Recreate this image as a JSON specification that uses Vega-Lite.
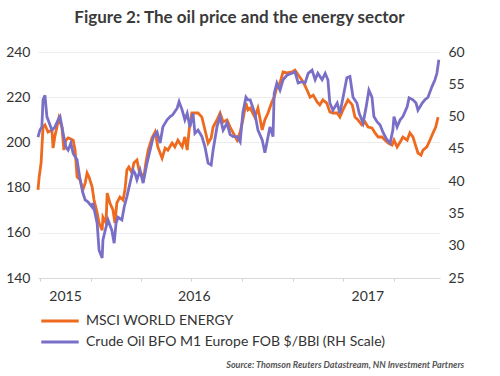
{
  "$schema": "https://vega.github.io/schema/vega-lite/v6.json",
  "width": 402,
  "height": 226,
  "padding": {"left": 5, "right": 5, "top": 8, "bottom": 3},
  "background": "#ffffff",
  "config": {"view": {"stroke": null}, "font": "Lato"},
  "title": {
    "text": "Source: Thomson Reuters Datastream, NN Investment Partners",
    "orient": "bottom",
    "anchor": "end",
    "frame": "bounds",
    "font": "Lato",
    "fontSize": 9,
    "fontStyle": "italic",
    "fontWeight": "bold",
    "color": "#555555",
    "offset": 12
  },
  "datasets": {
    "msci": [
      {"w": 0.0, "v": 179.0}, {"w": 0.3, "v": 184.7}, {"w": 0.8, "v": 190.9}, {"w": 1.3, "v": 206.8}, {"w": 1.8, "v": 207.7},
      {"w": 2.6, "v": 204.6}, {"w": 3.6, "v": 205.5}, {"w": 3.9, "v": 197.5}, {"w": 4.4, "v": 203.0}, {"w": 4.9, "v": 206.8},
      {"w": 5.4, "v": 210.8}, {"w": 6.2, "v": 206.8}, {"w": 6.7, "v": 196.6}, {"w": 7.2, "v": 201.0}, {"w": 7.8, "v": 202.0},
      {"w": 8.5, "v": 201.5}, {"w": 9.1, "v": 201.0}, {"w": 9.6, "v": 196.6}, {"w": 10.1, "v": 184.7}, {"w": 10.9, "v": 183.4},
      {"w": 11.6, "v": 179.0}, {"w": 12.2, "v": 182.0}, {"w": 12.7, "v": 186.5}, {"w": 13.2, "v": 184.7}, {"w": 14.0, "v": 180.3},
      {"w": 14.5, "v": 174.5}, {"w": 15.3, "v": 168.8}, {"w": 15.8, "v": 164.3}, {"w": 16.6, "v": 161.2}, {"w": 16.8, "v": 166.9},
      {"w": 17.6, "v": 164.3}, {"w": 17.9, "v": 177.6}, {"w": 18.6, "v": 173.2}, {"w": 19.4, "v": 170.1}, {"w": 19.9, "v": 164.3},
      {"w": 20.4, "v": 173.2}, {"w": 21.2, "v": 175.8}, {"w": 22.0, "v": 174.5}, {"w": 22.5, "v": 179.0}, {"w": 23.0, "v": 187.8},
      {"w": 23.5, "v": 189.1}, {"w": 24.3, "v": 186.5}, {"w": 24.8, "v": 190.9}, {"w": 25.6, "v": 192.2}, {"w": 26.2, "v": 187.2},
      {"w": 26.9, "v": 185.8}, {"w": 27.2, "v": 182.5}, {"w": 27.9, "v": 190.9}, {"w": 28.5, "v": 196.6}, {"w": 29.5, "v": 202.0},
      {"w": 30.3, "v": 204.6}, {"w": 31.0, "v": 198.0}, {"w": 32.1, "v": 193.0}, {"w": 32.9, "v": 197.5}, {"w": 33.6, "v": 196.6},
      {"w": 34.7, "v": 199.7}, {"w": 35.4, "v": 198.0}, {"w": 36.2, "v": 201.0}, {"w": 37.3, "v": 198.0}, {"w": 38.0, "v": 202.4},
      {"w": 38.6, "v": 196.6}, {"w": 39.1, "v": 205.5}, {"w": 39.8, "v": 213.0}, {"w": 40.6, "v": 213.0}, {"w": 41.4, "v": 213.0},
      {"w": 42.4, "v": 211.2}, {"w": 43.2, "v": 205.5}, {"w": 44.0, "v": 199.7}, {"w": 44.8, "v": 202.0}, {"w": 45.3, "v": 206.8},
      {"w": 46.3, "v": 209.9}, {"w": 47.1, "v": 213.0}, {"w": 47.9, "v": 209.0}, {"w": 48.9, "v": 209.9}, {"w": 49.7, "v": 206.8},
      {"w": 50.5, "v": 204.2}, {"w": 51.5, "v": 201.0}, {"w": 52.3, "v": 204.6}, {"w": 53.0, "v": 209.9}, {"w": 53.8, "v": 217.4},
      {"w": 54.3, "v": 214.4}, {"w": 54.9, "v": 215.2}, {"w": 56.1, "v": 211.2}, {"w": 56.9, "v": 215.2}, {"w": 58.0, "v": 205.5},
      {"w": 58.7, "v": 210.0}, {"w": 59.5, "v": 213.0}, {"w": 60.5, "v": 217.9}, {"w": 61.1, "v": 220.0}, {"w": 61.8, "v": 224.5},
      {"w": 62.6, "v": 226.3}, {"w": 63.4, "v": 231.2}, {"w": 64.4, "v": 230.8}, {"w": 65.7, "v": 231.2}, {"w": 66.5, "v": 232.0},
      {"w": 67.3, "v": 229.9}, {"w": 68.6, "v": 226.7}, {"w": 69.6, "v": 223.2}, {"w": 70.4, "v": 220.0}, {"w": 71.2, "v": 220.9},
      {"w": 72.2, "v": 217.9}, {"w": 72.9, "v": 216.6}, {"w": 73.7, "v": 218.8}, {"w": 74.7, "v": 217.4}, {"w": 75.5, "v": 213.5},
      {"w": 76.3, "v": 213.0}, {"w": 77.4, "v": 213.0}, {"w": 78.1, "v": 211.2}, {"w": 78.9, "v": 214.4}, {"w": 80.2, "v": 218.8},
      {"w": 81.3, "v": 216.6}, {"w": 82.0, "v": 211.2}, {"w": 82.8, "v": 209.9}, {"w": 83.8, "v": 207.7}, {"w": 84.6, "v": 209.0},
      {"w": 85.4, "v": 206.8}, {"w": 86.4, "v": 206.4}, {"w": 87.2, "v": 204.2}, {"w": 88.0, "v": 202.4}, {"w": 89.0, "v": 202.4},
      {"w": 89.8, "v": 201.0}, {"w": 90.6, "v": 199.7}, {"w": 91.6, "v": 198.8}, {"w": 92.1, "v": 201.0}, {"w": 92.9, "v": 198.0},
      {"w": 93.7, "v": 200.2}, {"w": 94.4, "v": 202.4}, {"w": 95.5, "v": 201.0}, {"w": 96.2, "v": 204.2}, {"w": 97.0, "v": 202.4},
      {"w": 97.8, "v": 198.0}, {"w": 98.3, "v": 195.3}, {"w": 99.1, "v": 194.4}, {"w": 99.6, "v": 196.6}, {"w": 100.6, "v": 198.0},
      {"w": 101.4, "v": 201.0}, {"w": 102.2, "v": 204.2}, {"w": 102.9, "v": 206.8}, {"w": 103.5, "v": 211.2}
    ],
    "oil": [
      {"w": 0.0, "v": 46.8}, {"w": 0.5, "v": 47.9}, {"w": 1.0, "v": 48.4}, {"w": 1.3, "v": 52.6}, {"w": 1.8, "v": 53.3},
      {"w": 2.3, "v": 50.0}, {"w": 2.8, "v": 49.2}, {"w": 3.6, "v": 47.9}, {"w": 4.4, "v": 48.4}, {"w": 5.2, "v": 49.5},
      {"w": 5.7, "v": 50.0}, {"w": 6.5, "v": 47.4}, {"w": 7.2, "v": 45.3}, {"w": 7.8, "v": 44.8}, {"w": 8.5, "v": 45.9},
      {"w": 9.1, "v": 44.3}, {"w": 10.1, "v": 43.3}, {"w": 10.9, "v": 40.2}, {"w": 11.6, "v": 38.2}, {"w": 12.2, "v": 37.1},
      {"w": 12.9, "v": 36.8}, {"w": 14.0, "v": 36.0}, {"w": 14.2, "v": 36.6}, {"w": 15.3, "v": 33.5}, {"w": 15.8, "v": 29.3},
      {"w": 16.6, "v": 28.1}, {"w": 16.8, "v": 30.9}, {"w": 17.6, "v": 32.9}, {"w": 18.1, "v": 34.0}, {"w": 19.1, "v": 32.4},
      {"w": 19.7, "v": 30.4}, {"w": 20.2, "v": 33.5}, {"w": 20.7, "v": 34.4}, {"w": 21.7, "v": 34.0}, {"w": 22.3, "v": 36.0},
      {"w": 23.0, "v": 37.6}, {"w": 23.8, "v": 39.7}, {"w": 24.6, "v": 41.7}, {"w": 25.1, "v": 41.2}, {"w": 25.6, "v": 40.2},
      {"w": 26.4, "v": 41.7}, {"w": 27.2, "v": 39.7}, {"w": 28.2, "v": 42.8}, {"w": 29.0, "v": 44.8}, {"w": 29.8, "v": 46.8},
      {"w": 30.8, "v": 47.6}, {"w": 31.6, "v": 45.9}, {"w": 32.3, "v": 48.4}, {"w": 33.4, "v": 49.5}, {"w": 34.2, "v": 50.0},
      {"w": 34.9, "v": 50.3}, {"w": 36.0, "v": 51.3}, {"w": 36.5, "v": 52.3}, {"w": 37.3, "v": 51.0}, {"w": 38.0, "v": 49.5},
      {"w": 38.6, "v": 50.5}, {"w": 39.3, "v": 48.4}, {"w": 40.1, "v": 50.5}, {"w": 40.6, "v": 47.4}, {"w": 41.4, "v": 47.9},
      {"w": 42.4, "v": 46.9}, {"w": 43.2, "v": 45.3}, {"w": 44.0, "v": 42.8}, {"w": 44.8, "v": 42.5}, {"w": 45.3, "v": 44.8},
      {"w": 46.3, "v": 48.4}, {"w": 47.1, "v": 50.0}, {"w": 47.9, "v": 47.9}, {"w": 48.9, "v": 49.0}, {"w": 49.7, "v": 47.2},
      {"w": 50.5, "v": 46.9}, {"w": 51.5, "v": 46.9}, {"w": 52.3, "v": 46.1}, {"w": 53.0, "v": 50.6}, {"w": 53.8, "v": 53.0},
      {"w": 54.3, "v": 52.6}, {"w": 54.9, "v": 52.6}, {"w": 56.1, "v": 50.5}, {"w": 56.9, "v": 47.9}, {"w": 58.0, "v": 46.4},
      {"w": 58.7, "v": 44.4}, {"w": 59.2, "v": 45.9}, {"w": 60.0, "v": 48.4}, {"w": 60.8, "v": 46.9}, {"w": 61.1, "v": 53.6},
      {"w": 61.8, "v": 55.2}, {"w": 62.6, "v": 54.1}, {"w": 63.4, "v": 55.7}, {"w": 64.4, "v": 56.4}, {"w": 65.7, "v": 56.7},
      {"w": 66.5, "v": 56.9}, {"w": 67.3, "v": 55.2}, {"w": 68.3, "v": 55.4}, {"w": 69.1, "v": 55.2}, {"w": 69.9, "v": 56.7},
      {"w": 70.9, "v": 57.2}, {"w": 71.7, "v": 55.7}, {"w": 72.4, "v": 56.7}, {"w": 73.5, "v": 55.7}, {"w": 74.3, "v": 56.7},
      {"w": 75.0, "v": 55.7}, {"w": 75.5, "v": 52.1}, {"w": 76.3, "v": 51.0}, {"w": 77.4, "v": 52.1}, {"w": 78.1, "v": 50.5},
      {"w": 78.9, "v": 52.9}, {"w": 79.9, "v": 56.0}, {"w": 80.7, "v": 56.2}, {"w": 81.5, "v": 53.0}, {"w": 82.5, "v": 52.1},
      {"w": 83.1, "v": 50.5}, {"w": 84.1, "v": 49.0}, {"w": 84.9, "v": 51.5}, {"w": 85.6, "v": 54.1}, {"w": 86.4, "v": 53.0},
      {"w": 86.9, "v": 50.0}, {"w": 87.7, "v": 49.2}, {"w": 88.5, "v": 48.7}, {"w": 89.3, "v": 47.5}, {"w": 90.3, "v": 46.4},
      {"w": 91.1, "v": 45.9}, {"w": 91.8, "v": 47.9}, {"w": 92.1, "v": 50.0}, {"w": 92.9, "v": 48.4}, {"w": 93.7, "v": 49.5},
      {"w": 94.4, "v": 50.0}, {"w": 95.5, "v": 51.5}, {"w": 96.0, "v": 52.9}, {"w": 97.0, "v": 52.6}, {"w": 97.8, "v": 52.1},
      {"w": 98.3, "v": 51.0}, {"w": 99.4, "v": 52.1}, {"w": 100.1, "v": 52.6}, {"w": 100.9, "v": 53.0}, {"w": 101.9, "v": 54.6},
      {"w": 102.7, "v": 55.7}, {"w": 103.2, "v": 56.7}, {"w": 103.7, "v": 58.8}
    ]
  },
  "layer": [
    {
      "data": {"name": "msci"},
      "mark": {"type": "line", "strokeWidth": 2.8, "interpolate": "linear"},
      "encoding": {
        "x": {
          "field": "w",
          "type": "quantitative",
          "scale": {"domain": [0, 104], "nice": false, "zero": false},
          "axis": {
            "orient": "bottom",
            "title": null,
            "grid": false,
            "values": [0.6, 7, 13.7, 26.7, 39.7, 40.3, 52.8, 65.9, 79, 85.2, 92.1],
            "labelExpr": "datum.value > 6 && datum.value < 8 ? '2015' : (datum.value > 40 && datum.value < 41 ? '2016' : (datum.value > 85 && datum.value < 86 ? '2017' : ''))",
            "labelFont": "Lato",
            "labelFontSize": 14,
            "labelColor": "#333333",
            "labelPadding": 8,
            "labelFlush": false,
            "labelOverlap": false,
            "domainColor": "#d9d9d9",
            "domainWidth": 1,
            "tickColor": "#d0d0d0",
            "tickSize": 3,
            "tickOpacity": {"condition": {"test": "(datum.value > 6 && datum.value < 8) || (datum.value > 40 && datum.value < 41) || (datum.value > 85 && datum.value < 86)", "value": 0}, "value": 1}
          }
        },
        "y": {
          "field": "v",
          "type": "quantitative",
          "scale": {"domain": [140, 240], "nice": false, "zero": false},
          "axis": {
            "orient": "left",
            "title": null,
            "values": [140, 160, 180, 200, 220, 240],
            "grid": true,
            "gridColor": "#ececec",
            "gridWidth": 1,
            "domain": false,
            "ticks": false,
            "labelFont": "Lato",
            "labelFontSize": 14,
            "labelColor": "#333333",
            "labelPadding": 8
          }
        },
        "color": {
          "datum": "MSCI WORLD ENERGY",
          "type": "nominal",
          "scale": {
            "domain": ["MSCI WORLD ENERGY", "Crude Oil BFO M1 Europe FOB $/BBl (RH Scale)"],
            "range": ["#ee6a1f", "#7a6fc6"]
          },
          "legend": {
            "orient": "bottom",
            "direction": "vertical",
            "title": null,
            "symbolType": "M-2,0H2",
            "symbolSize": 350,
            "symbolStrokeWidth": 3,
            "symbolOffset": 11,
            "labelFont": "Lato",
            "labelFontSize": 14,
            "labelColor": "#333333",
            "labelOffset": 15,
            "labelLimit": 400,
            "rowPadding": 3,
            "offset": 7
          }
        }
      }
    },
    {
      "data": {"name": "oil"},
      "mark": {"type": "line", "strokeWidth": 2.8, "interpolate": "linear"},
      "encoding": {
        "x": {
          "field": "w",
          "type": "quantitative",
          "axis": {
            "orient": "top",
            "title": "Figure 2: The oil price and the energy sector",
            "titleFont": "Lato",
            "titleFontSize": 17,
            "titleFontWeight": "bold",
            "titleColor": "#3a3a3a",
            "titlePadding": 26,
            "labels": false,
            "ticks": false,
            "domain": false,
            "grid": false
          }
        },
        "y": {
          "field": "v",
          "type": "quantitative",
          "scale": {"domain": [25, 60], "nice": false, "zero": false},
          "axis": {
            "orient": "right",
            "title": null,
            "values": [25, 30, 35, 40, 45, 50, 55, 60],
            "grid": false,
            "domain": false,
            "ticks": false,
            "labelFont": "Lato",
            "labelFontSize": 14,
            "labelColor": "#333333",
            "labelPadding": 8
          }
        },
        "color": {"datum": "Crude Oil BFO M1 Europe FOB $/BBl (RH Scale)", "type": "nominal"}
      }
    }
  ],
  "resolve": {"scale": {"y": "independent"}, "axis": {"x": "independent", "y": "independent"}}
}
